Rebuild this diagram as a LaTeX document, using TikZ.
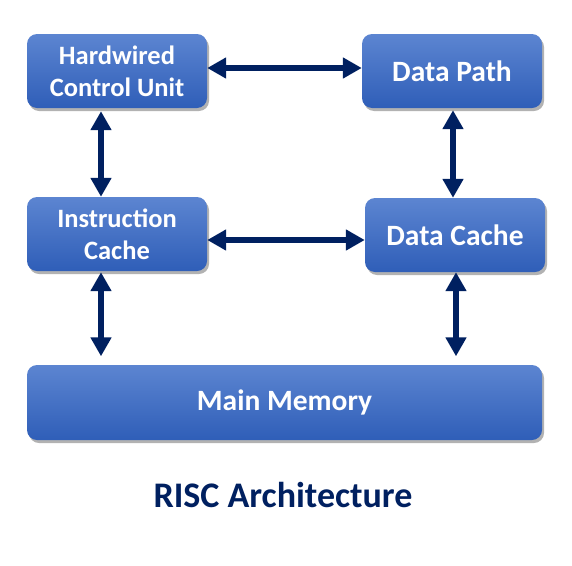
\documentclass[tikz,border=0pt]{standalone}
\usepackage{fontspec}
\setmainfont{Carlito}
\usepackage{xcolor}
\usepackage{tikz}
\usetikzlibrary{arrows.meta}
\usetikzlibrary{shadows}
\usetikzlibrary{calc}
\definecolor{navy}{HTML}{002060}
\definecolor{boxtop}{HTML}{5C85D1}
\definecolor{boxbot}{HTML}{2F5EB8}

\tikzset{
  block/.style={rounded corners=10pt,minimum width=180pt,minimum height=74pt,inner sep=0pt,
    top color=boxtop,bottom color=boxbot,text=white,align=center,
    drop shadow={shadow xshift=2pt,shadow yshift=-3pt,opacity=0.3,fill=black}},
  twoline/.style={font=\fontsize{26.5}{32}\selectfont\bfseries},
  oneline/.style={font=\fontsize{29.5}{35}\selectfont\bfseries},
  link/.style={line width=6.5pt,draw=navy,{Triangle[width=20pt,length=19pt]}-{Triangle[width=20pt,length=19pt]}}
}

\begin{document}
\begin{tikzpicture}[x=1pt,y=-1pt]
\useasboundingbox (0,0) rectangle (572,565);
% boxes
\node (hcu) at (117,71)[block,twoline]{Hardwired\\Control Unit};
\node (dp) at (452,71)[block,oneline]{Data Path};
\node (ic) at (117,234)[block,twoline]{Instruction\\Cache};
\node (dc) at (455,235)[block,oneline]{Data Cache};
\node (mm) at (284.5,402.5)[block,oneline,minimum width=515pt,minimum height=75pt]{Main Memory};
\node (title) at (283,507)[anchor=base,text=navy,font=\fontsize{36}{43}\selectfont\bfseries]{RISC Architecture};
% connectors
\coordinate (hcuL) at ($(hcu.south)+(-16,3)$);
\coordinate (icL) at ($(ic.south)+(-16,1)$);
\coordinate (dpR) at ($(dp.south)+(1,2)$);
\coordinate (dcR) at ($(dc.south)+(1,0)$);
\coordinate (mmtop) at ($(mm.north)+(0,-8.5)$);
\draw[link] ([yshift=3pt]hcu.east) -- ([yshift=3pt]dp.west);
\draw[link] ([yshift=-6pt]ic.east) -- ([yshift=-6pt]ic.east -| dc.west);
\draw[link] (hcuL) -- (hcuL |- ic.north);
\draw[link] (dpR) -- (dpR |- dc.north);
\draw[link] (icL) -- (icL |- mmtop);
\draw[link] (dcR) -- (dcR |- mmtop);
\end{tikzpicture}
\end{document}
